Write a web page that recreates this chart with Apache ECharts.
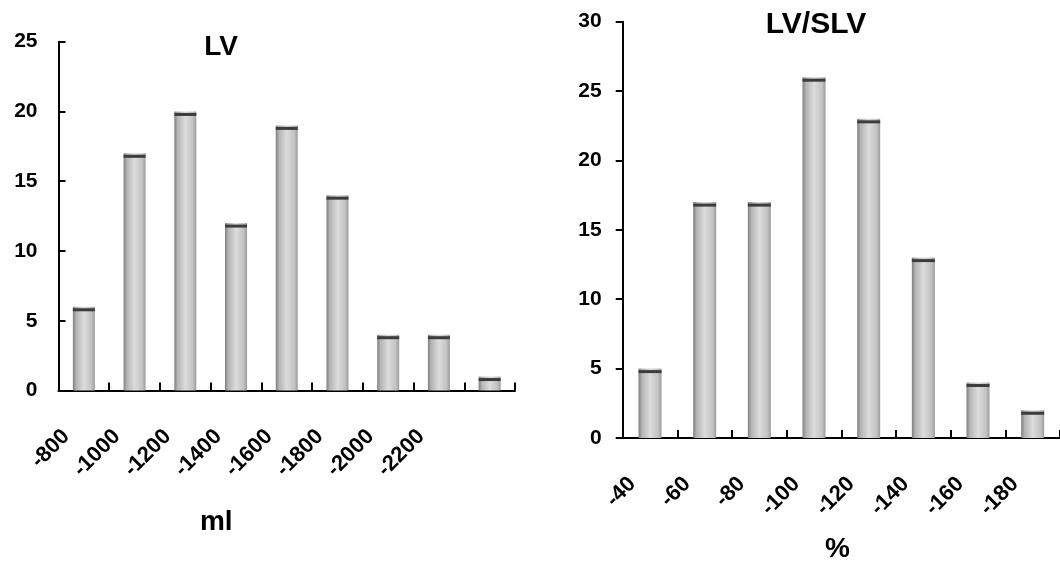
<!DOCTYPE html>
<html>
<head>
<meta charset="utf-8">
<script src="https://cdn.jsdelivr.net/npm/echarts@6/dist/echarts.min.js"></script>
<style>
html,body{margin:0;padding:0;background:#fff;}
#c{width:1060px;height:568px;}
</style>
</head>
<body>
<div id="c"></div>
<script>
// ---- data ----
const lvCategories = ['-800', '-1000', '-1200', '-1400', '-1600', '-1800', '-2000', '-2200', ''];
const lvCounts = [6, 17, 20, 12, 19, 14, 4, 4, 1];
const slvCategories = ['-40', '-60', '-80', '-100', '-120', '-140', '-160', '-180'];
const slvCounts = [5, 17, 17, 26, 23, 13, 4, 2];
const lvTitle = 'LV';
const slvTitle = 'LV/SLV';
const lvUnit = 'ml';
const slvUnit = '%';

const FONT = '"Liberation Sans", Arial, sans-serif';
const chart = echarts.init(document.getElementById('c'), null, {renderer: 'canvas'});

const barFill = new echarts.graphic.LinearGradient(0, 0, 1, 0, [
  {offset: 0, color: '#7e7e7e'},
  {offset: 0.15, color: '#b4b4b4'},
  {offset: 0.5, color: '#dcdcdc'},
  {offset: 0.85, color: '#c2c2c2'},
  {offset: 1, color: '#9a9a9a'}
]);

function xAxisCfg(gridIndex, cats, unit, nameGap, namePadRight) {
  return {
    type: 'category', gridIndex, data: cats,
    axisLine: {show: true, lineStyle: {color: '#000', width: 2}},
    axisTick: {show: true, inside: true, length: 8, lineStyle: {color: '#000', width: 2}},
    axisLabel: {
      show: true, rotate: 45, interval: 0, margin: 25,
      color: '#000', fontFamily: FONT, fontWeight: 'bold', fontSize: 22,
      padding: [0, 25, 0, 0]
    },
    splitLine: {show: false},
    name: unit, nameLocation: 'middle', nameGap: nameGap,
    nameTextStyle: {color: '#000', fontFamily: FONT, fontWeight: 'bold', fontSize: 28, padding: [0, namePadRight, 0, 0]}
  };
}
function yAxisCfg(gridIndex, max, tickInside) {
  return {
    type: 'value', gridIndex, min: 0, max: max, interval: 5,
    axisLine: {show: true, lineStyle: {color: '#000', width: 2}},
    axisTick: {show: true, inside: tickInside, length: 7, lineStyle: {color: '#000', width: 2}},
    axisLabel: {margin: 21, color: '#000', fontFamily: FONT, fontWeight: 'bold', fontSize: 21},
    splitLine: {show: false}
  };
}
function barSeries(idx, data, w) {
  return [{
    type: 'bar', xAxisIndex: idx, yAxisIndex: idx, data: data,
    barWidth: w, barGap: '-100%',
    itemStyle: {color: barFill}
  }, {
    type: 'pictorialBar', xAxisIndex: idx, yAxisIndex: idx, data: data,
    symbol: 'rect', symbolSize: [w, 3], symbolPosition: 'end', symbolOffset: [0, '50%'],
    barGap: '-100%',
    itemStyle: {color: '#3c3c3c'}, z: 3
  }];
}

chart.setOption({
  animation: false,
  backgroundColor: '#fff',
  title: [
    {text: lvTitle, left: 216, top: 28, textAlign: 'center',
     textStyle: {color: '#000', fontFamily: FONT, fontWeight: 'bold', fontSize: 28}},
    {text: slvTitle, left: 811, top: 5, textAlign: 'center',
     textStyle: {color: '#000', fontFamily: FONT, fontWeight: 'bold', fontSize: 30}}
  ],
  grid: [
    {left: 58.5, top: 41.7, width: 456.5, height: 348.8},
    {left: 622.7, top: 21.7, width: 437.3, height: 416.3}
  ],
  xAxis: [
    xAxisCfg(0, lvCategories, lvUnit, 118, 141),
    xAxisCfg(1, slvCategories, slvUnit, 97, 8)
  ],
  yAxis: [yAxisCfg(0, 25, true), yAxisCfg(1, 30, false)],
  series: [].concat(barSeries(0, lvCounts, 22), barSeries(1, slvCounts, 23))
});
</script>
</body>
</html>
